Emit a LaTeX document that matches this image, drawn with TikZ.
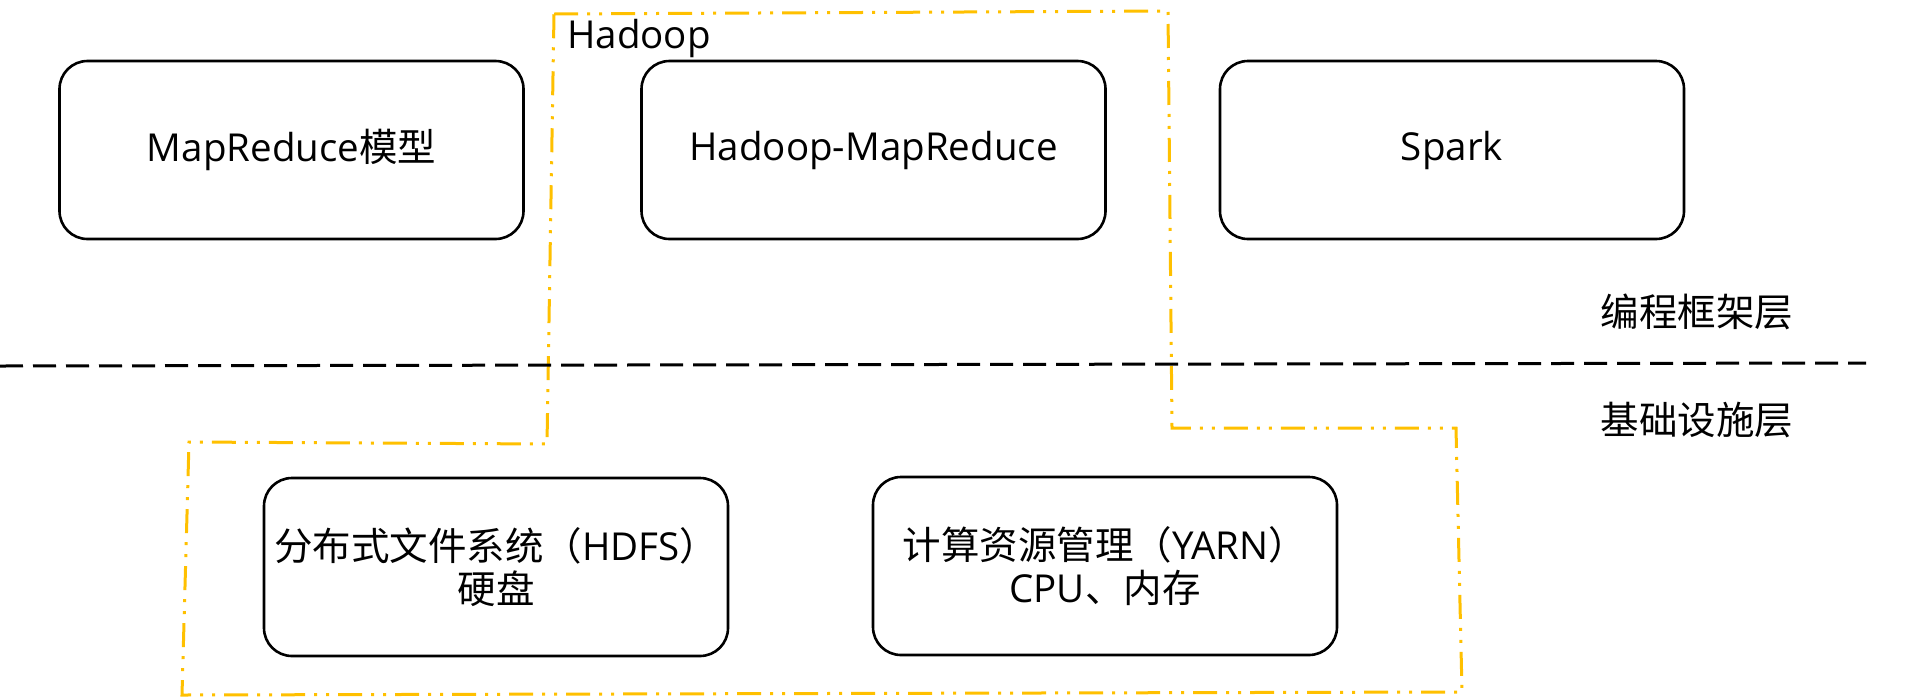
\documentclass[tikz,border=0pt]{standalone}
\usepackage{fontspec}
\setmainfont{Open Sans}
\newfontfamily\cjk{Noto Sans CJK SC}
\definecolor{hadoopgold}{RGB}{255,192,0}
\tikzset{
  layerbox/.style={draw=black, line width=2.6pt, rounded corners=28pt, fill=white,
    minimum width=464pt, minimum height=178pt, inner sep=0pt, align=center,
    font=\fontsize{38.5}{46}\selectfont},
  plainlabel/.style={inner sep=0pt, font=\fontsize{38.5}{46}\selectfont},
  hadoopline/.style={draw=hadoopgold, line width=3pt,
    dash pattern=on 24pt off 9pt on 3pt off 9pt on 3pt off 9pt},
  layerline/.style={draw=black, line width=3pt, dash pattern=on 23pt off 10pt}
}
\newcommand{\lowered}[1]{\raisebox{-3pt}{#1}}
\begin{document}
\begin{tikzpicture}[x=1pt,y=-1pt]
\useasboundingbox (0,0) rectangle (1905,697);
% Hadoop outline
\draw[hadoopline] (554,14) -- (1168,11) -- (1172,428) -- (1456,428) -- (1462,692)
  -- (182,695) -- (189,442) -- (547,444) -- cycle;
\node[plainlabel, anchor=base west] (hadooplabel) at (567,48) {Hadoop};
% layer separator
\coordinate (sepL) at (0,366);
\coordinate (sepR) at (1866,363);
\draw[layerline] (sepL) -- (sepR);
% boxes
\node[layerbox] (mr) at (291.5,150) {\lowered{MapReduce{\cjk 模型}}};
\node[layerbox] (hmr) at (873.5,150) {\lowered{Hadoop-MapReduce}};
\node[layerbox] (spark) at (1452,150) {\lowered{Spark}};
\node[layerbox] (hdfs) at (496,567) {\lowered{{\cjk 分布式文件系统（}HDFS{\cjk ）}}\\{\cjk 硬盘}};
\node[layerbox] (yarn) at (1105,566) {\lowered{{\cjk 计算资源管理（}YARN{\cjk ）}}\\CPU{\cjk 、内存}};
% layer labels
\node[plainlabel, font=\cjk\fontsize{38.5}{46}\selectfont] (framework) at (1697,312) {编程框架层};
\node[plainlabel, font=\cjk\fontsize{38.5}{46}\selectfont] (infra) at (1697,420) {基础设施层};
\end{tikzpicture}
\end{document}
